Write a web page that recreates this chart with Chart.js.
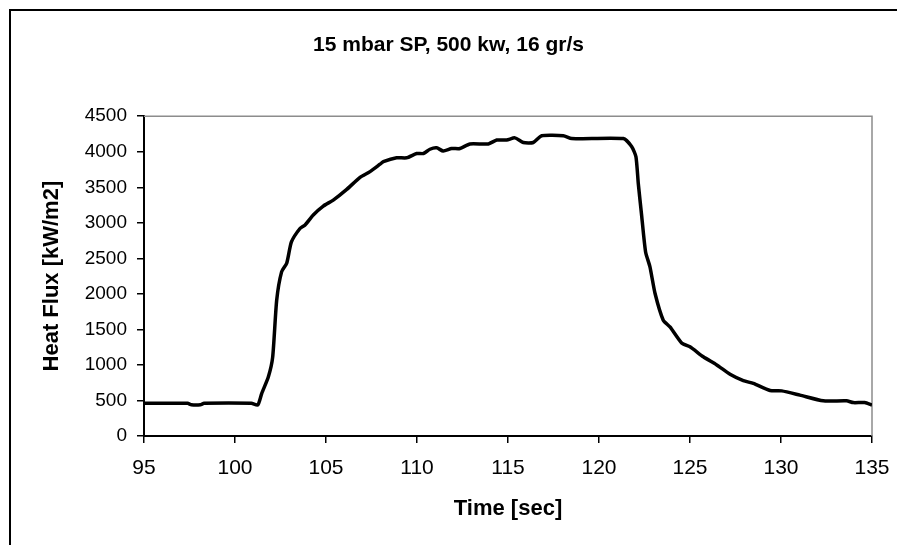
<!DOCTYPE html>
<html>
<head>
<meta charset="utf-8">
<script src="https://cdn.jsdelivr.net/npm/chart.js@4.4.1/dist/chart.umd.min.js"></script>
<style>
    html, body { margin: 0; padding: 0; background: #fff; overflow: hidden; }
    #mainChart { display: block; }
</style>
</head>
<body>
<canvas id="mainChart" width="897" height="545"></canvas>
<script>
// czas [s] i strumień ciepła [kW/m2]
const timeSec = [
    95, 97.4, 97.6, 98.1, 98.3, 100.9, 101.25, 101.47, 101.83, 102.07,
    102.29, 102.56, 102.84, 103.1, 103.57, 103.85, 104.3, 104.85, 105.4, 106.14,
    106.87, 107.42, 107.97, 108.15, 108.88, 109.43, 109.98, 110.35, 110.71, 111.08,
    111.44, 111.9, 112.36, 112.91, 113.92, 114.38, 114.93, 115.38, 115.84, 116.39,
    116.85, 118.04, 118.5, 121.34, 121.8, 122.03, 122.16, 122.35, 122.56, 122.8,
    123.08, 123.53, 123.9, 124.54, 125.0, 125.73, 126.47, 127.2, 127.93, 128.48,
    129.4, 130.04, 131.04, 132.32, 133.6, 133.97, 134.6, 135
];
const heatFlux = [
    460, 460, 440, 440, 460, 460, 435, 600, 830, 1110,
    1910, 2310, 2430, 2730, 2920, 2970, 3110, 3235, 3320, 3470,
    3640, 3720, 3825, 3860, 3915, 3915, 3975, 3975, 4035, 4055,
    4010, 4045, 4045, 4110, 4110, 4165, 4165, 4195, 4130, 4130,
    4225, 4225, 4185, 4185, 4070, 3930, 3550, 3085, 2590, 2380,
    2005, 1630, 1535, 1310, 1255, 1115, 1000, 870, 780, 740,
    640, 635, 575, 495, 495, 470, 470, 435
];
const xTicks = [95, 100, 105, 110, 115, 120, 125, 130, 135];
const yTicks = [0, 500, 1000, 1500, 2000, 2500, 3000, 3500, 4000, 4500];

const FONT = "'Liberation Sans', Arial, sans-serif";

// ramka zewnętrzna (lewa/górna) + szara ramka góra/prawo obszaru wykresu
const frames = {
    id: 'frames',
    beforeDraw(chart) {
        const { ctx, width, height } = chart;
        ctx.save();
        ctx.strokeStyle = '#000';
        ctx.lineWidth = 2;
        ctx.beginPath();
        ctx.moveTo(10, height);
        ctx.lineTo(10, 10);
        ctx.lineTo(width, 10);
        ctx.stroke();
        ctx.restore();
    },
    beforeDatasetsDraw(chart) {
        const { ctx, chartArea: a } = chart;
        ctx.save();
        ctx.strokeStyle = '#8c8c8c';
        ctx.lineWidth = 1.5;
        ctx.beginPath();
        ctx.moveTo(a.left, a.top);
        ctx.lineTo(a.right, a.top);
        ctx.lineTo(a.right, a.bottom);
        ctx.stroke();
        ctx.restore();
    }
};

const points = timeSec.map((t, i) => ({ x: t, y: heatFlux[i] }));

const ctx = document.getElementById('mainChart').getContext('2d');
new Chart(ctx, {
    type: 'scatter',
    data: {
        datasets: [{
            data: points,
            showLine: true,
            borderColor: '#000',
            borderWidth: 3.5,
            pointRadius: 0,
            tension: 0.2,
            fill: false
        }]
    },
    options: {
        responsive: false,
        animation: false,
        layout: { padding: { left: 25, right: 25, top: 0, bottom: 0 } },
        plugins: {
            legend: { display: false },
            tooltip: { enabled: false },
            title: {
                display: true,
                text: '15 mbar SP, 500 kw, 16 gr/s',
                color: '#000',
                font: { family: FONT, size: 21, weight: 'bold' },
                padding: { top: 33, bottom: 58 }
            }
        },
        scales: {
            x: {
                type: 'linear',
                min: 95,
                max: 135,
                afterBuildTicks: (s) => { s.ticks = xTicks.map(v => ({ value: v })); },
                afterFit: (s) => { s.height = 109; s.paddingLeft = 0; s.paddingRight = 0; },
                grid: { drawOnChartArea: false, drawTicks: true, tickLength: 7, color: '#000', lineWidth: 1.5 },
                border: { display: true, color: '#000', width: 2 },
                ticks: { color: '#000', padding: 13, maxRotation: 0, font: { family: FONT, size: 21 } },
                title: {
                    display: true,
                    text: 'Time [sec]',
                    color: '#000',
                    font: { family: FONT, size: 22, weight: 'bold' },
                    padding: { top: 0, bottom: 23 }
                }
            },
            y: {
                type: 'linear',
                min: 0,
                max: 4500,
                afterBuildTicks: (s) => { s.ticks = yTicks.map(v => ({ value: v })); },
                afterFit: (s) => { s.width = 119; },
                grid: { drawOnChartArea: false, drawTicks: true, tickLength: 7, color: '#000', lineWidth: 1.5 },
                border: { display: true, color: '#000', width: 2 },
                ticks: {
                    color: '#000',
                    padding: 10,
                    font: { family: FONT, size: 19 },
                    callback: (v) => String(v)
                },
                title: {
                    display: true,
                    text: 'Heat Flux [kW/m2]',
                    color: '#000',
                    font: { family: FONT, size: 22, weight: 'bold' },
                    padding: { top: 14, bottom: 0 }
                }
            }
        }
    },
    plugins: [frames]
});
</script>
</body>
</html>
